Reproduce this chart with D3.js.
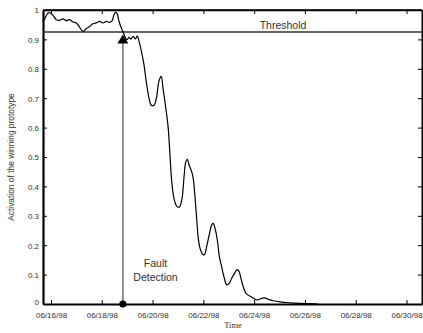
<!DOCTYPE html>
<html><head><meta charset="utf-8">
<script src="https://cdn.jsdelivr.net/npm/d3@7"></script>
<style>
html,body{margin:0;padding:0;background:#fff;}
svg{display:block;font-family:"Liberation Sans",Arial,sans-serif;}
</style></head>
<body><svg id="c" width="423" height="333"></svg>
<script>
// Days after 06/16/98 00:00
const dayOffsets = [-0.33,-0.248,-0.118,-0.028,0.079,0.209,0.343,0.472,0.602,0.736,0.866,0.996,1.13,1.26,1.39,1.52,1.65,1.78,1.92,2.05,2.18,2.31,2.41,2.48,2.55,2.61,2.68,2.77,2.83,2.91,2.99,3.07,3.14,3.23,3.32,3.40,3.45,3.56,3.65,3.75,3.86,3.95,4.06,4.15,4.25,4.34,4.41,4.52,4.61,4.69,4.75,4.84,4.95,5.05,5.15,5.24,5.31,5.37,5.44,5.54,5.60,5.67,5.74,5.80,5.87,5.96,6.04,6.13,6.23,6.33,6.39,6.46,6.55,6.63,6.72,6.81,6.92,7.02,7.11,7.24,7.33,7.41,7.48,7.57,7.68,7.83,7.99,8.12,8.26,8.39,8.56,8.75,9.02,9.41,9.80,10.20,10.52];
const activation = [0.962,0.97,0.99,0.99,0.982,0.967,0.965,0.97,0.964,0.967,0.959,0.956,0.941,0.927,0.937,0.944,0.953,0.956,0.961,0.956,0.961,0.958,0.964,0.984,0.993,0.986,0.961,0.939,0.927,0.91,0.899,0.907,0.901,0.91,0.902,0.912,0.899,0.859,0.82,0.757,0.70,0.676,0.676,0.70,0.757,0.774,0.735,0.667,0.604,0.501,0.422,0.36,0.333,0.329,0.354,0.433,0.484,0.492,0.473,0.45,0.427,0.365,0.286,0.223,0.189,0.17,0.167,0.195,0.235,0.269,0.274,0.257,0.218,0.161,0.127,0.093,0.065,0.07,0.087,0.106,0.117,0.11,0.087,0.059,0.036,0.027,0.019,0.014,0.018,0.021,0.016,0.011,0.007,0.004,0.002,0.001,0.0];
const xTickLabels = ["06/16/98","06/18/98","06/20/98","06/22/98","06/24/98","06/26/98","06/28/98","06/30/98"];
const yTickValues = [0,0.1,0.2,0.3,0.4,0.5,0.6,0.7,0.8,0.9,1];
const threshold = 0.925;
const faultDay = 2.83;
const xDomainDays = [-0.315, 14.61];

(function () {
const base = new Date(1998, 5, 16, 0, 0);
const toDate = d => new Date(base.getTime() + d * 86400000);
const parse = d3.timeParse("%m/%d/%y");

const svg = d3.select("#c");
const L = 43, R = 422, T = 10, B = 304;
const x = d3.scaleTime().domain(xDomainDays.map(toDate)).range([L, R]);
const y = d3.scaleLinear().domain([0, 1]).range([B, T]);
const xTicks = xTickLabels.map(s => parse(s));
const fmt = d3.timeFormat("%m/%d/%y");

// frame
svg.append("line").attr("x1", L).attr("x2", R).attr("y1", T).attr("y2", T).attr("stroke", "#000").attr("stroke-width", 1.3);
svg.append("line").attr("x1", R).attr("x2", R).attr("y1", T).attr("y2", B).attr("stroke", "#000").attr("stroke-width", 1);

// axes
const gBottom = svg.append("g").attr("transform", `translate(0,${B})`)
  .call(d3.axisBottom(x).tickValues(xTicks).tickFormat(fmt).tickSizeInner(-4).tickSizeOuter(0).tickPadding(8));
const gTop = svg.append("g").attr("transform", `translate(0,${T})`)
  .call(d3.axisTop(x).tickValues(xTicks).tickFormat("").tickSizeInner(-4).tickSizeOuter(0));
const gLeft = svg.append("g").attr("transform", `translate(${L},0)`)
  .call(d3.axisLeft(y).tickValues(yTickValues).tickFormat(d3.format("")).tickSizeInner(-4).tickSizeOuter(0).tickPadding(4));
const gRight = svg.append("g").attr("transform", `translate(${R},0)`)
  .call(d3.axisRight(y).tickValues(yTickValues).tickFormat("").tickSizeInner(-4).tickSizeOuter(0));
[gBottom, gTop, gLeft, gRight].forEach(g => {
  g.selectAll("text").attr("font-family", "Liberation Sans, Arial, sans-serif").attr("font-size", 8).attr("fill", "#333");
  g.selectAll(".tick line").attr("stroke", "#000");
});
gBottom.select(".domain").attr("stroke-width", 2.2);
gLeft.select(".domain").attr("stroke-width", 2.2);
gTop.select(".domain").attr("stroke-width", 1.3);
gRight.select(".domain").attr("stroke-width", 1);
gLeft.selectAll(".tick text").attr("dy", "0.35em");
gLeft.selectAll(".tick").filter(d => d === 0).select("text").attr("dy", "0.1em");

// threshold
svg.append("line").attr("x1", L).attr("x2", R).attr("y1", y(threshold)).attr("y2", y(threshold))
  .attr("stroke", "#333").attr("stroke-width", 1.4);
svg.append("text").attr("x", 283).attr("y", y(threshold) - 3).attr("text-anchor", "middle")
  .attr("font-size", 10.5).attr("fill", "#333").text("Threshold");

// curve
const pts = dayOffsets.map((d, i) => [toDate(d), activation[i]]);
svg.append("path").datum(pts)
  .attr("fill", "none").attr("stroke", "#000").attr("stroke-width", 1.2)
  .attr("d", d3.line().x(d => x(d[0])).y(d => y(d[1])).curve(d3.curveCatmullRom.alpha(0.5)));

// fault detection arrow
const fx = x(toDate(faultDay));
svg.append("line").attr("x1", fx).attr("x2", fx).attr("y1", B).attr("y2", 42)
  .attr("stroke", "#777").attr("stroke-width", 1.6);
svg.append("path").attr("d", `M${fx},${34.5} L${fx - 5.5},${43.5} L${fx + 5.5},${43.5} Z`).attr("fill", "#000");
svg.append("circle").attr("cx", fx).attr("cy", B).attr("r", 3.6).attr("fill", "#000");
const ft = svg.append("text").attr("text-anchor", "middle").attr("font-size", 10.5).attr("fill", "#333");
ft.append("tspan").attr("x", 155.5).attr("y", 267).text("Fault");
ft.append("tspan").attr("x", 155.5).attr("y", 280.5).text("Detection");

// axis titles
svg.append("text").attr("transform", `translate(11.5,157) rotate(-90)`).attr("text-anchor", "middle")
  .attr("dy", "0.35em").attr("font-size", 8.4).attr("fill", "#333").text("Activation of the winning prototype");
svg.append("text").attr("x", 233).attr("y", 328).attr("text-anchor", "middle")
  .attr("font-family", "Liberation Serif, Times New Roman, serif").attr("font-size", 8.5).attr("fill", "#333").text("Time");
})();
</script></body></html>
